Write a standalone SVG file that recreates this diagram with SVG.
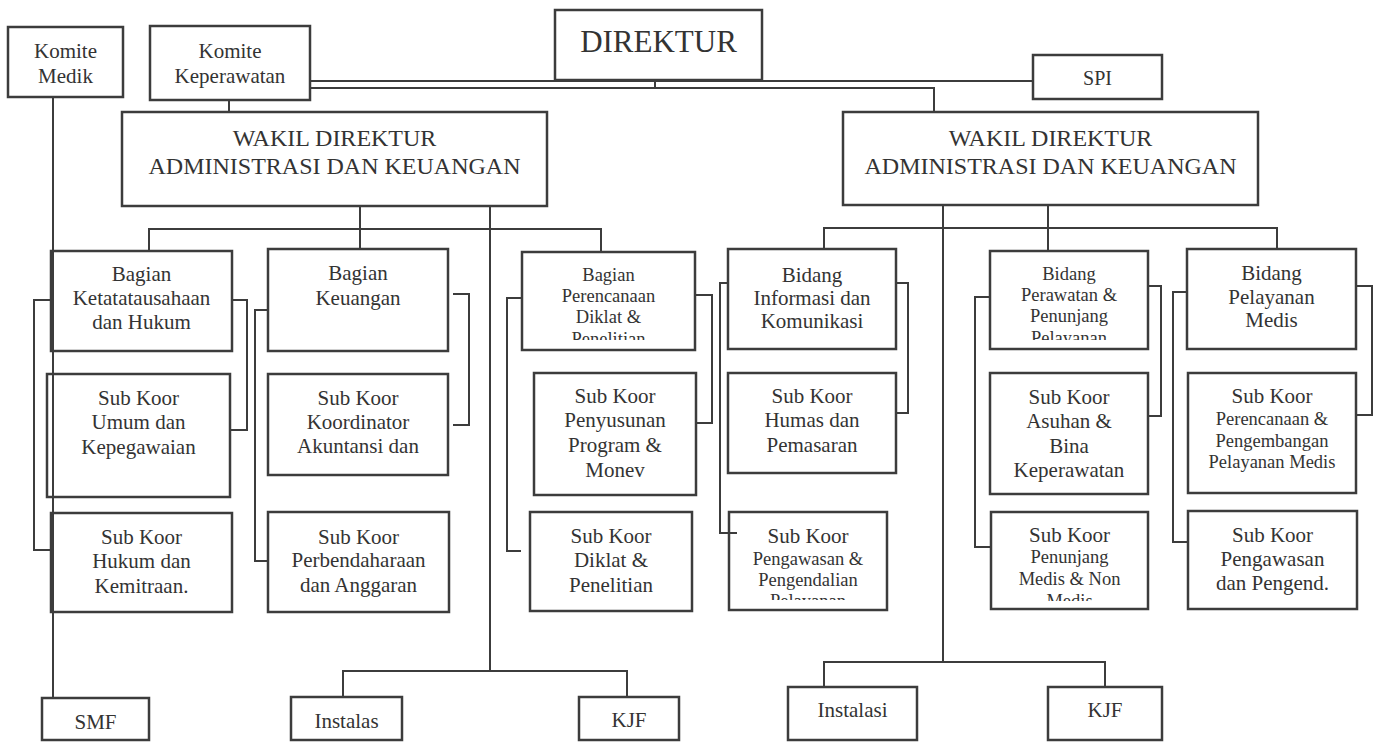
<svg xmlns="http://www.w3.org/2000/svg" width="1380" height="742" viewBox="0 0 1380 742">
<style>
.box{fill:#fff;stroke:#3c3c3c;stroke-width:2.5}
.ln{fill:none;stroke:#3c3c3c;stroke-width:2}
text{font-family:'Liberation Serif','DejaVu Serif',serif;fill:#333;text-anchor:middle;font-size:21px}
.s{font-size:18.5px}
.w{font-size:24px}
</style>
<defs>
<clipPath id="c1"><rect x="522" y="252" width="173" height="88"/></clipPath>
<clipPath id="c2"><rect x="990" y="251" width="158" height="89"/></clipPath>
<clipPath id="c3"><rect x="729" y="512" width="158" height="88"/></clipPath>
<clipPath id="c4"><rect x="991" y="512" width="157" height="89"/></clipPath>
</defs>
<rect width="1380" height="742" fill="#fff"/>
<g font-family="'Liberation Serif', serif">
<g id="direktur"><rect class="box" x="555" y="10" width="207" height="70"/><text x="658.5" y="52" style="font-size:31px">DIREKTUR</text></g>
<g id="komite-medik"><rect class="box" x="8" y="27" width="115" height="70"/><text x="65.5" y="58">Komite</text><text x="65.5" y="83">Medik</text></g>
<g id="komite-keperawatan"><rect class="box" x="150" y="26" width="160" height="74"/><text x="230" y="58">Komite</text><text x="230" y="83">Keperawatan</text></g>
<g id="spi"><rect class="box" x="1033" y="55" width="129" height="44"/><text x="1097.5" y="85" style="font-size:20px">SPI</text></g>
<g id="wadir-kiri"><rect class="box" x="122" y="112" width="425" height="94"/><text class="w" x="334.5" y="146">WAKIL DIREKTUR</text><text class="w" x="334.5" y="174">ADMINISTRASI DAN KEUANGAN</text></g>
<g id="wadir-kanan"><rect class="box" x="843" y="112" width="415" height="93"/><text class="w" x="1050.5" y="146">WAKIL DIREKTUR</text><text class="w" x="1050.5" y="174">ADMINISTRASI DAN KEUANGAN</text></g>
<g id="bagian-tu"><rect class="box" x="51" y="251" width="181" height="100"/><text x="141.5" y="281">Bagian</text><text x="141.5" y="305">Ketatatausahaan</text><text x="141.5" y="329">dan Hukum</text></g>
<g id="bagian-keu"><rect class="box" x="268" y="249" width="180" height="102"/><text x="358" y="280">Bagian</text><text x="358" y="305">Keuangan</text></g>
<g id="bagian-ren"><rect class="box" x="522" y="252" width="173" height="98"/><g clip-path="url(#c1)"><text class="s" x="608.5" y="281">Bagian</text><text class="s" x="608.5" y="302">Perencanaan</text><text class="s" x="608.5" y="323">Diklat &amp;</text><text class="s" x="608.5" y="345">Penelitian</text></g></g>
<g id="bidang-info"><rect class="box" x="728" y="249" width="168" height="100"/><text x="812" y="282">Bidang</text><text x="812" y="305">Informasi dan</text><text x="812" y="328">Komunikasi</text></g>
<g id="bidang-rawat"><rect class="box" x="990" y="251" width="158" height="98"/><g clip-path="url(#c2)"><text class="s" x="1069" y="280">Bidang</text><text class="s" x="1069" y="301">Perawatan &amp;</text><text class="s" x="1069" y="322">Penunjang</text><text class="s" x="1069" y="344">Pelayanan</text></g></g>
<g id="bidang-yanmed"><rect class="box" x="1187" y="249" width="169" height="100"/><text x="1271.5" y="280">Bidang</text><text x="1271.5" y="304">Pelayanan</text><text x="1271.5" y="327">Medis</text></g>
<g id="sk-umum"><rect class="box" x="47" y="374" width="183" height="123"/><text x="138.5" y="405">Sub Koor</text><text x="138.5" y="429">Umum dan</text><text x="138.5" y="454">Kepegawaian</text></g>
<g id="sk-akuntansi"><rect class="box" x="268" y="374" width="180" height="101"/><text x="358" y="405">Sub Koor</text><text x="358" y="429">Koordinator</text><text x="358" y="453">Akuntansi dan</text></g>
<g id="sk-penyusunan"><rect class="box" x="534" y="373" width="162" height="122"/><text x="615" y="403">Sub Koor</text><text x="615" y="427">Penyusunan</text><text x="615" y="452">Program &amp;</text><text x="615" y="477">Monev</text></g>
<g id="sk-humas"><rect class="box" x="728" y="373" width="168" height="100"/><text x="812" y="403">Sub Koor</text><text x="812" y="427">Humas dan</text><text x="812" y="452">Pemasaran</text></g>
<g id="sk-asuhan"><rect class="box" x="990" y="373" width="158" height="121"/><text x="1069" y="404">Sub Koor</text><text x="1069" y="428">Asuhan &amp;</text><text x="1069" y="453">Bina</text><text x="1069" y="477">Keperawatan</text></g>
<g id="sk-perencanaan"><rect class="box" x="1188" y="373" width="168" height="120"/><text x="1272" y="403">Sub Koor</text><text class="s" x="1272" y="425">Perencanaan &amp;</text><text class="s" x="1272" y="446.5">Pengembangan</text><text class="s" x="1272" y="468">Pelayanan Medis</text></g>
<g id="sk-hukum"><rect class="box" x="51" y="513" width="181" height="99"/><text x="141.5" y="544">Sub Koor</text><text x="141.5" y="568">Hukum dan</text><text x="141.5" y="593">Kemitraan.</text></g>
<g id="sk-perbendaharaan"><rect class="box" x="268" y="512" width="181" height="100"/><text x="358.5" y="544">Sub Koor</text><text x="358.5" y="567">Perbendaharaan</text><text x="358.5" y="592">dan Anggaran</text></g>
<g id="sk-diklat"><rect class="box" x="530" y="512" width="162" height="99"/><text x="611" y="543">Sub Koor</text><text x="611" y="567">Diklat &amp;</text><text x="611" y="592">Penelitian</text></g>
<g id="sk-pengawasan-yan"><rect class="box" x="729" y="512" width="158" height="98"/><g clip-path="url(#c3)"><text x="808" y="543">Sub Koor</text><text class="s" x="808" y="565">Pengawasan &amp;</text><text class="s" x="808" y="586">Pengendalian</text><text class="s" x="808" y="607">Pelayanan</text></g></g>
<g id="sk-penunjang"><rect class="box" x="991" y="512" width="157" height="97"/><g clip-path="url(#c4)"><text x="1069.5" y="542">Sub Koor</text><text class="s" x="1069.5" y="563">Penunjang</text><text class="s" x="1069.5" y="585">Medis &amp; Non</text><text class="s" x="1069.5" y="607">Medis</text></g></g>
<g id="sk-pengawasan-med"><rect class="box" x="1188" y="511" width="169" height="98"/><text x="1272.5" y="542">Sub Koor</text><text x="1272.5" y="566">Pengawasan</text><text x="1272.5" y="590">dan Pengend.</text></g>
<g id="smf"><rect class="box" x="42" y="698" width="107" height="42"/><text x="95.5" y="729">SMF</text></g>
<g id="instalas"><rect class="box" x="291" y="697" width="111" height="43"/><text x="346.5" y="728">Instalas</text></g>
<g id="kjf-1"><rect class="box" x="579" y="697" width="100" height="43"/><text x="629" y="727">KJF</text></g>
<g id="instalasi"><rect class="box" x="788" y="687" width="129" height="53"/><text x="852.5" y="717">Instalasi</text></g>
<g id="kjf-2"><rect class="box" x="1048" y="687" width="114" height="53"/><text x="1105" y="717">KJF</text></g>
</g>
<g id="connectors" class="ln">
<path d="M310,81 H1033"/>
<path d="M310,88 H934 V112"/>
<path d="M655,80 V88"/>
<path d="M229,100 V112"/>
<path d="M53,97 V698"/>
<path d="M149,251 V229 H601 V252"/>
<path d="M360,206 V249"/>
<path d="M490,206 V671"/>
<path d="M343,697 V671 H627 V697"/>
<path d="M943,205 V662"/>
<path d="M824,687 V662 H1105 V687"/>
<path d="M824,249 V228 H1277 V249"/>
<path d="M1048,205 V251"/>
<path d="M51,300 H34 V550 H51"/>
<path d="M232,300 H247 V430 H230"/>
<path d="M268,310 H255 V561 H268"/>
<path d="M453,294 H469 V425 H453"/>
<path d="M522,298 H507 V551 H521"/>
<path d="M695,295 H712 V423 H696"/>
<path d="M728,283 H720 V533 H737"/>
<path d="M896,283 H908 V413 H896"/>
<path d="M990,297 H975 V547 H991"/>
<path d="M1148,286 H1161 V416 H1148"/>
<path d="M1187,292 H1173 V542 H1188"/>
<path d="M1356,286 H1372 V415 H1356"/>
</g>
</svg>
